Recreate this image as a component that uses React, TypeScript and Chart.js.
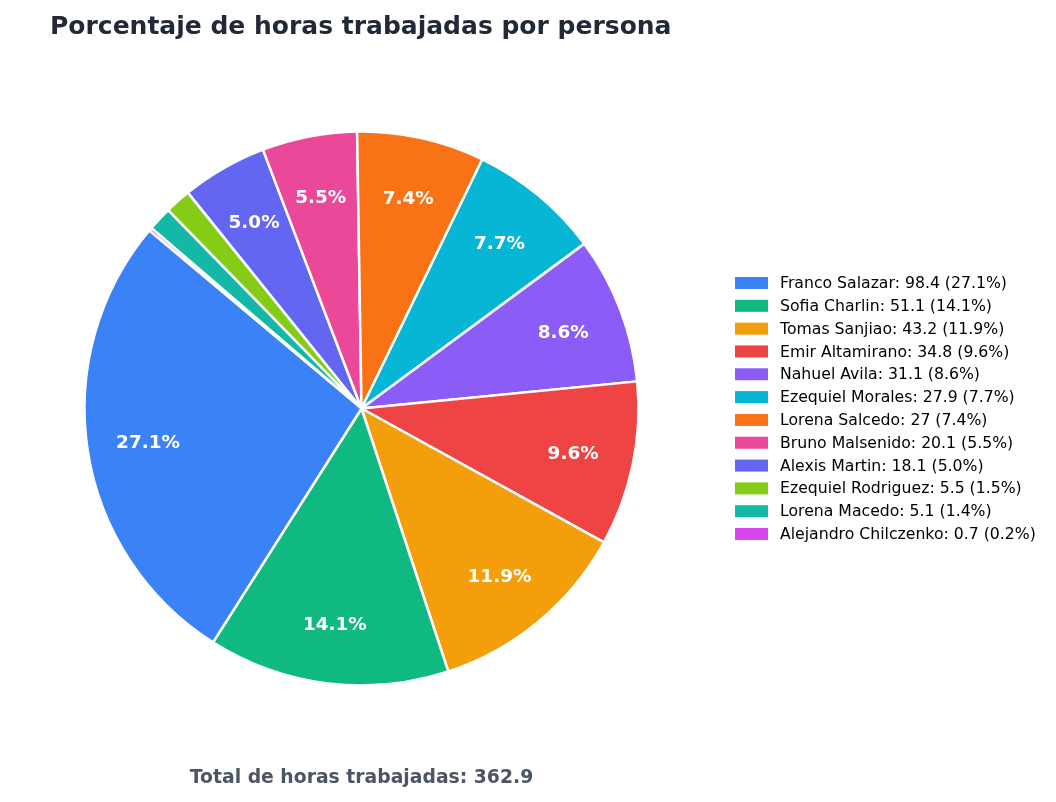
import React, { useEffect, useRef } from "react";
import { Chart, registerables } from "chart.js";

Chart.register(...registerables);

const names = [
  "Franco Salazar",
  "Sofia Charlin",
  "Tomas Sanjiao",
  "Emir Altamirano",
  "Nahuel Avila",
  "Ezequiel Morales",
  "Lorena Salcedo",
  "Bruno Malsenido",
  "Alexis Martin",
  "Ezequiel Rodriguez",
  "Lorena Macedo",
  "Alejandro Chilczenko",
];
const hours = [98.4, 51.1, 43.2, 34.8, 31.1, 27.9, 27, 20.1, 18.1, 5.5, 5.1, 0.7];
const colors = [
  "#3b82f6",
  "#10b981",
  "#f59e0b",
  "#ef4444",
  "#8b5cf6",
  "#06b6d4",
  "#f97316",
  "#ec4899",
  "#6366f1",
  "#84cc16",
  "#14b8a6",
  "#d946ef",
];
const titleText = "Porcentaje de horas trabajadas por persona";
const totalHours = 362.9;
const footerText = `Total de horas trabajadas: ${totalHours}`;

const sum = hours.reduce((a, b) => a + b, 0);
const pct = (v: number) => (v / sum) * 100;

export default function App() {
  const ref = useRef<HTMLCanvasElement>(null);
  useEffect(() => {
    if (!ref.current) return;
    const n = names.length;
    const rev = <T,>(a: T[]) => a.slice().reverse();
    const textPlugin = {
      id: "texts",
      afterDraw(chart: any) {
        const ctx = chart.ctx as CanvasRenderingContext2D;
        ctx.save();
        // percentage labels
        const meta = chart.getDatasetMeta(0);
        const data = chart.data.datasets[0].data as number[];
        meta.data.forEach((arc: any, i: number) => {
          const p = pct(data[i]);
          if (p < 3) return;
          const { x, y, startAngle, endAngle, outerRadius } = arc.getProps(
            ["x", "y", "startAngle", "endAngle", "outerRadius"],
            true
          );
          const mid = (startAngle + endAngle) / 2;
          const r = outerRadius * 0.78;
          ctx.fillStyle = "#ffffff";
          ctx.font = "bold 18.4px 'DejaVu Sans'";
          ctx.textAlign = "center";
          ctx.textBaseline = "middle";
          ctx.fillText(p.toFixed(1) + "%", x + Math.cos(mid) * r, y + Math.sin(mid) * r + 2);
        });
        // title
        ctx.fillStyle = "#1f2937";
        ctx.font = "bold 25px 'DejaVu Sans'";
        ctx.textAlign = "left";
        ctx.textBaseline = "middle";
        ctx.fillText(titleText, 50, 27);
        // footer
        ctx.fillStyle = "#4b5563";
        ctx.font = "bold 18.8px 'DejaVu Sans'";
        ctx.textAlign = "center";
        ctx.fillText(footerText, 361.5, 778);
        // legend
        ctx.font = "15.7px 'DejaVu Sans'";
        ctx.textAlign = "left";
        const step = 22.82;
        for (let i = 0; i < n; i++) {
          const cy = 283 + i * step;
          ctx.fillStyle = colors[i];
          ctx.fillRect(735, cy - 6, 33, 12);
          ctx.fillStyle = "#000000";
          ctx.fillText(`${names[i]}: ${hours[i]} (${pct(hours[i]).toFixed(1)}%)`, 780, cy + 1);
        }
        ctx.restore();
      },
    };
    const chart = new Chart(ref.current, {
      type: "pie",
      data: {
        labels: rev(names),
        datasets: [
          {
            data: rev(hours),
            backgroundColor: rev(colors),
            borderColor: "#ffffff",
            borderWidth: 2.5,
          },
        ],
      },
      options: {
        animation: false,
        responsive: false,
        rotation: -50,
        radius: 277,
        layout: { padding: { left: 84.5, right: 417.5, top: 131.5, bottom: 116.5 } },
        plugins: {
          legend: { display: false },
          tooltip: { enabled: false },
          title: { display: false },
        },
      },
      plugins: [textPlugin],
    });
    return () => chart.destroy();
  }, []);
  return (
    <div style={{ position: "absolute", left: 0, top: 0, width: 1056, height: 802, background: "#fff" }}>
      <canvas ref={ref} width={1056} height={802} style={{ width: 1056, height: 802 }} />
    </div>
  );
}
